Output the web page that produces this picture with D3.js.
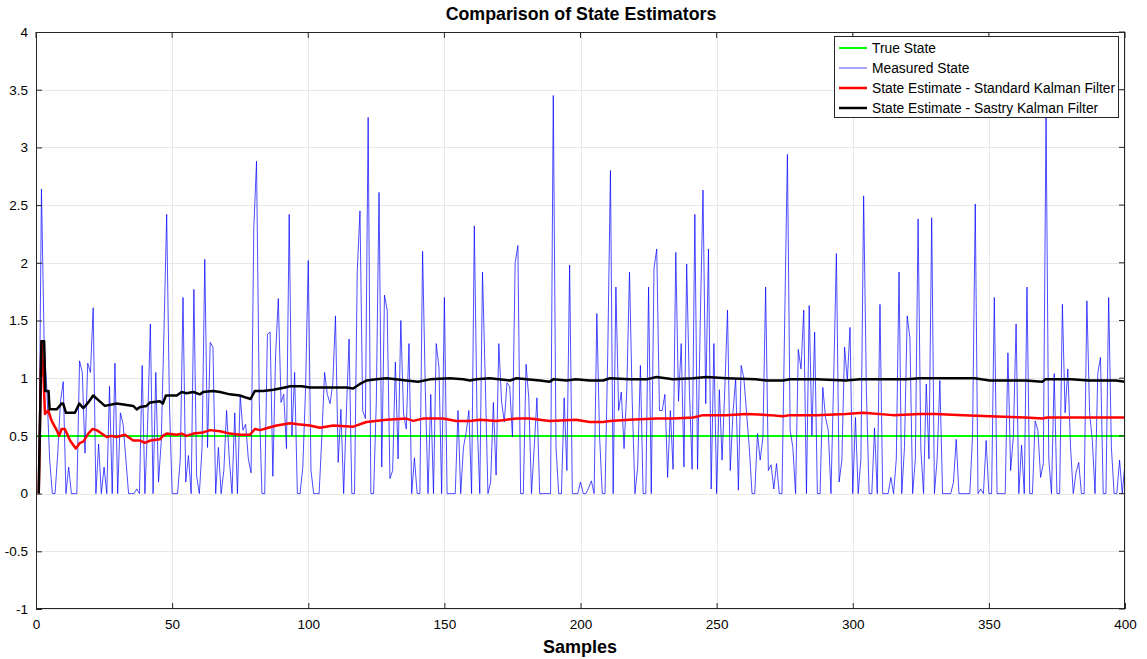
<!DOCTYPE html>
<html>
<head>
<meta charset="utf-8">
<script src="https://cdn.jsdelivr.net/npm/d3@7/dist/d3.min.js"></script>
<style>
  html, body { margin: 0; padding: 0; background: #fff; }
  svg { display: block; font-family: "Liberation Sans", Arial, Helvetica, sans-serif; }
</style>
</head>
<body>
<svg id="chart" width="1147" height="659"></svg>
<script>
// ---- data ----
const titleText = "Comparison of State Estimators";
const xLabel = "Samples";
const xTicks = [0, 50, 100, 150, 200, 250, 300, 350, 400];
const yTicks = [-1, -0.5, 0, 0.5, 1, 1.5, 2, 2.5, 3, 3.5, 4];
const seriesNames = [
  "True State",
  "Measured State",
  "State Estimate - Standard Kalman Filter",
  "State Estimate - Sastry Kalman Filter"
];

const trueState = 0.5;

// measured state, samples 1..400
const measured = [
  0, 2.64, 1.3, 0.9, 0.3, 0, 0, 0.35, 0.8, 0.97, 0, 0.23, 0, 0, 0, 1.15, 1.05, 0.35, 1.13, 1.05,
  1.61, 0, 0.43, 0, 0.23, 0, 0.93, 0, 1.13, 0, 0.7, 0.6, 0.3, 0, 0, 0, 0.04, 0, 1.11, 0,
  0.6, 1.47, 0, 1.05, 0.1, 0.45, 1.4, 2.42, 0.8, 0, 0, 0, 0.3, 1.7, 0.1, 0.33, 0, 1.77, 0.15, 0,
  0.4, 2.03, 0.4, 1.31, 1.27, 0, 0.4, 0, 0.2, 0.72, 0.3, 0, 0.7, 0, 0.85, 0.55, 0.6, 0.3, 0.18, 2.3,
  2.88, 0.8, 0, 0, 1.38, 1.4, 0.15, 1.2, 1.69, 0.79, 0.86, 0.39, 2.42, 0.5, 1.05, 0, 0, 0.23, 0.9, 2.02,
  0.2, 0, 0, 0, 0.5, 1.05, 0.86, 0.78, 0.95, 1.54, 0.27, 0.73, 0, 0.7, 1.34, 0, 0, 1.93, 2.45, 0.72,
  0.65, 3.26, 0, 0, 0.8, 2.61, 0.23, 1.72, 1.59, 0.13, 0.2, 1.14, 0.3, 1.5, 0.69, 0.56, 1.3, 0, 0.31, 0,
  0, 2.1, 0.9, 0, 0.86, 0, 1.3, 1.1, 0, 1.7, 0, 0, 0, 0, 0.72, 0, 0.4, 0.53, 0.72, 0,
  2.32, 0.65, 0, 1.92, 1.0, 0, 0.1, 0.79, 0.16, 1.3, 0.8, 0.62, 0.96, 0.93, 0.49, 2.0, 2.15, 0, 0, 1.12,
  0.83, 0, 0.4, 0.83, 0, 0, 0, 0, 0, 3.45, 0.4, 0, 0, 0.83, 0.2, 1.98, 0, 0, 0, 0.1,
  0, 0, 0.05, 0.11, 0, 1.56, 0.5, 0, 0, 1.2, 2.8, 0, 1.79, 0.72, 0.88, 0.39, 0.9, 1.92, 0.8, 0,
  0.23, 1.11, 0, 0, 1.79, 0, 1.95, 2.12, 0.72, 0.72, 0.86, 0.14, 0.72, 0.21, 2.09, 0.8, 1.3, 0.23, 1.99, 0.9,
  0.21, 2.42, 0.21, 1.5, 2.63, 0.78, 2.12, 0.04, 1.3, 0, 0.9, 0.29, 0.9, 1.59, 0.2, 0.7, 1.0, 0.03, 1.11, 1.0,
  0.7, 0.4, 0, 0, 0.52, 0.29, 0.49, 1.79, 0.2, 0.25, 0.04, 0.26, 0, 0, 1.5, 2.94, 0.55, 0.4, 0, 1.25,
  1.08, 1.59, 0, 1.63, 0.5, 1.4, 0, 0, 0.92, 0.66, 0.55, 0, 1.0, 2.08, 0.1, 0.29, 1.27, 0.98, 1.44, 0,
  0.66, 0, 0.3, 2.58, 0.9, 0, 0, 0.57, 0, 1.64, 0, 0, 0, 0.14, 0, 0.3, 1.92, 0, 0.4, 1.54,
  1.35, 0, 0.3, 2.38, 0.39, 0, 0.95, 0.3, 2.39, 0, 0.3, 0.98, 0, 0, 0, 0, 0.1, 0.47, 0, 0,
  0, 0, 0, 0.5, 2.51, 0, 0.04, 0, 0.46, 0, 0, 1.7, 0, 0, 0, 0, 1.22, 0.2, 0.5, 1.47,
  0, 0.42, 0, 1.79, 0, 0, 0.63, 0.55, 0.14, 0.26, 3.29, 0.3, 0, 1.04, 0, 0, 1.64, 0.7, 1.08, 0.4,
  0, 0.18, 0.27, 0, 0, 1.67, 0.7, 0.46, 0, 1.04, 1.18, 0, 0, 1.7, 0.4, 0, 0, 0.29, 0, 0.27
];

// standard Kalman filter estimate, [sample, value]
const standardKF = [
  [1,0],[2,1.32],[2.6,1.1],[3.3,0.69],[4.5,0.72],[5.75,0.63],[7.6,0.55],[8.5,0.5],[9.4,0.56],[10.6,0.56],
  [12.5,0.46],[14.6,0.39],[16.2,0.44],[17.4,0.45],[19.2,0.52],[20.8,0.56],[22.3,0.55],[24.1,0.52],[26,0.49],
  [27.8,0.5],[29.6,0.49],[32.7,0.51],[35.7,0.46],[38.2,0.46],[40,0.44],[42,0.46],[45.5,0.47],[46.6,0.5],
  [48,0.52],[51.7,0.51],[53.5,0.52],[55.3,0.5],[57.8,0.52],[61.4,0.53],[63.9,0.55],[67.6,0.54],[71.2,0.52],
  [74.9,0.51],[78.6,0.51],[80.4,0.56],[82.3,0.55],[85.3,0.57],[88.4,0.59],[93.3,0.61],[96.3,0.6],[100.6,0.59],
  [104.3,0.57],[109.2,0.59],[116.5,0.58],[121.4,0.62],[128.8,0.64],[136,0.65],[138.6,0.63],[142.1,0.65],
  [149.6,0.65],[154.3,0.63],[159.4,0.63],[163,0.64],[169.2,0.63],[176.5,0.65],[181.4,0.65],[188.7,0.63],
  [198.3,0.64],[203.4,0.62],[208.3,0.62],[210.8,0.63],[218,0.64],[227.9,0.65],[234,0.65],[241.4,0.66],
  [245,0.68],[253.6,0.68],[260.9,0.69],[269.5,0.68],[274.4,0.67],[276.9,0.68],[286.7,0.68],[297.4,0.69],
  [303.8,0.7],[314.8,0.68],[324.6,0.69],[330.5,0.69],[340.5,0.68],[350.3,0.67],[363.5,0.66],[369.6,0.65],
  [371.4,0.66],[386.6,0.66],[400,0.66]
];

// Sastry Kalman filter estimate, [sample, value]
const sastryKF = [
  [1,0],[2,1.32],[3,1.32],[3.4,0.89],[4.6,0.89],[5,0.73],[7.6,0.73],[9.4,0.78],[10,0.78],[11,0.7],
  [14.3,0.7],[15.9,0.78],[17.4,0.74],[19.2,0.79],[21,0.85],[22.9,0.81],[25.3,0.76],[29.6,0.78],[32.7,0.77],
  [35.7,0.76],[37,0.73],[38.2,0.75],[40.6,0.76],[41.9,0.79],[45.5,0.8],[46.6,0.78],[47.7,0.85],[51.7,0.85],
  [53.5,0.88],[55.3,0.87],[57.8,0.88],[60.2,0.86],[61.4,0.88],[65.1,0.89],[67.6,0.88],[71.2,0.86],[74.9,0.85],
  [77.4,0.83],[78.8,0.82],[80.4,0.89],[83.5,0.89],[87.2,0.9],[91.4,0.92],[93.3,0.93],[97.6,0.93],[100.6,0.92],
  [109.2,0.92],[114,0.92],[116.5,0.91],[119,0.95],[121.4,0.98],[125,0.99],[128.8,1.0],[132.2,0.99],[136,0.98],
  [140.4,0.97],[144.7,0.99],[152,1.0],[156.9,0.99],[159.4,0.98],[161.8,0.99],[166.7,1.0],[174.1,0.98],
  [176.5,1.0],[180.2,0.99],[185.1,0.98],[188.7,0.97],[190,0.99],[194.9,0.98],[198.3,0.99],[203.4,0.98],
  [208.3,0.98],[210.8,1.0],[218,0.99],[224.2,0.99],[227.9,1.01],[234,0.99],[241.4,1.0],[246.3,1.01],
  [253.6,1.0],[264.4,0.99],[268.3,0.98],[274.4,0.98],[276.9,0.99],[286.7,0.99],[297.4,0.98],[302.6,0.99],
  [309.9,0.99],[319.7,0.99],[324.6,1.0],[330.5,1.0],[344.8,1.0],[350.3,0.98],[363.5,0.98],[369.6,0.97],
  [370.8,0.99],[380.3,0.99],[386.6,0.98],[396.7,0.98],[400,0.97]
];

const colors = { truth: "#00ff00", measured: "#0000ff", standard: "#ff0000", sastry: "#000000" };

// ---- layout ----
const svg = d3.select("#chart");
const W = 1147, H = 659;
const plot = { left: 36, right: 1125, top: 32, bottom: 609 };

const x = d3.scaleLinear().domain([0, 400]).range([plot.left, plot.right]);
const y = d3.scaleLinear().domain([-1, 4]).range([plot.bottom, plot.top]);

svg.append("rect").attr("width", W).attr("height", H).attr("fill", "#fff");

// grid
const grid = svg.append("g").attr("stroke", "#e8e8e8").attr("stroke-width", 1);
xTicks.forEach(t => grid.append("line")
  .attr("x1", Math.round(x(t)) + 0.5).attr("x2", Math.round(x(t)) + 0.5)
  .attr("y1", plot.top).attr("y2", plot.bottom));
yTicks.forEach(t => grid.append("line")
  .attr("x1", plot.left).attr("x2", plot.right)
  .attr("y1", Math.round(y(t)) + 0.5).attr("y2", Math.round(y(t)) + 0.5));

// series
svg.append("defs").append("clipPath").attr("id", "plotclip")
  .append("rect").attr("x", plot.left).attr("y", plot.top)
  .attr("width", plot.right - plot.left).attr("height", plot.bottom - plot.top);
const series = svg.append("g").attr("clip-path", "url(#plotclip)");

const line = d3.line().x(d => x(d[0])).y(d => y(d[1]));

series.append("path")
  .datum([[0, trueState], [400, trueState]])
  .attr("d", line).attr("fill", "none")
  .attr("stroke", colors.truth).attr("stroke-width", 2);

series.append("path")
  .datum(measured.map((v, i) => [i + 1, v]))
  .attr("d", line).attr("fill", "none")
  .attr("stroke", colors.measured).attr("stroke-width", 0.7)
  .attr("stroke-linejoin", "round");

series.append("path")
  .datum(standardKF)
  .attr("d", line).attr("fill", "none")
  .attr("stroke", colors.standard).attr("stroke-width", 2.5)
  .attr("stroke-linejoin", "round");

series.append("path")
  .datum(sastryKF)
  .attr("d", line).attr("fill", "none")
  .attr("stroke", colors.sastry).attr("stroke-width", 2.5)
  .attr("stroke-linejoin", "round");

// axes
const fmt = d => String(d);
const xAxis = d3.axisBottom(x).tickValues(xTicks).tickFormat(fmt).tickSizeInner(-6).tickSizeOuter(0).tickPadding(10);
const yAxis = d3.axisLeft(y).tickValues(yTicks).tickFormat(fmt).tickSizeInner(-6).tickSizeOuter(0).tickPadding(8);

const gx = svg.append("g").attr("transform", `translate(0,${plot.bottom})`).call(xAxis);
const gy = svg.append("g").attr("transform", `translate(${plot.left},0)`).call(yAxis);
[gx, gy].forEach(g => {
  g.select(".domain").remove();
  g.selectAll(".tick line").attr("stroke", "#262626");
  g.selectAll(".tick text").attr("fill", "#000").attr("font-size", 13.5)
    .attr("font-family", "'Liberation Sans', Arial, sans-serif");
});

// top / right ticks
const topTicks = svg.append("g").attr("stroke", "#262626");
xTicks.forEach(t => topTicks.append("line")
  .attr("x1", x(t)).attr("x2", x(t)).attr("y1", plot.top).attr("y2", plot.top + 6));
yTicks.forEach(t => topTicks.append("line")
  .attr("x1", plot.right - 6).attr("x2", plot.right).attr("y1", y(t)).attr("y2", y(t)));

// box
svg.append("rect")
  .attr("x", plot.left + 0.5).attr("y", plot.top + 0.5)
  .attr("width", plot.right - plot.left - 1).attr("height", plot.bottom - plot.top - 1)
  .attr("fill", "none").attr("stroke", "#262626").attr("stroke-width", 1);

// title and label
svg.append("text").attr("x", 581).attr("y", 20)
  .attr("text-anchor", "middle").attr("font-size", 17.8).attr("font-weight", "bold")
  .text(titleText);
svg.append("text").attr("x", 580).attr("y", 653)
  .attr("text-anchor", "middle").attr("font-size", 18).attr("font-weight", "bold")
  .text(xLabel);

// legend
const legend = svg.append("g").attr("transform", "translate(834,36)");
legend.append("rect").attr("x", 0.5).attr("y", 0.5).attr("width", 284).attr("height", 81)
  .attr("fill", "#fff").attr("stroke", "#262626").attr("stroke-width", 1);
const legendItems = [
  { name: seriesNames[0], color: colors.truth, w: 2 },
  { name: seriesNames[1], color: colors.measured, w: 0.7 },
  { name: seriesNames[2], color: colors.standard, w: 2.5 },
  { name: seriesNames[3], color: colors.sastry, w: 2.5 }
];
legendItems.forEach((d, i) => {
  const cy = 12 + i * 20;
  legend.append("line").attr("x1", 5).attr("x2", 33).attr("y1", cy).attr("y2", cy)
    .attr("stroke", d.color).attr("stroke-width", d.w);
  legend.append("text").attr("x", 38).attr("y", cy + 4.8)
    .attr("font-size", 13.8).attr("fill", "#000").text(d.name);
});
</script>
</body>
</html>
